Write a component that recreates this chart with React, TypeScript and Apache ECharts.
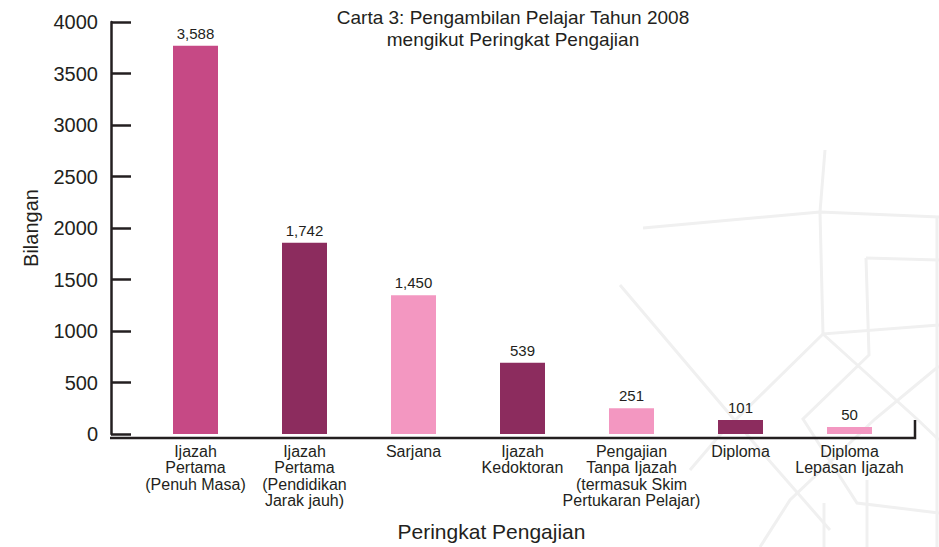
import React, { useEffect, useRef } from "react";
import * as echarts from "echarts";

// ---- Data ----
const categories = [
  "Ijazah\nPertama\n(Penuh Masa)",
  "Ijazah\nPertama\n(Pendidikan\nJarak jauh)",
  "Sarjana",
  "Ijazah\nKedoktoran",
  "Pengajian\nTanpa Ijazah\n(termasuk Skim\nPertukaran Pelajar)",
  "Diploma",
  "Diploma\nLepasan Ijazah",
];
// Bar heights as drawn in the picture (axis units)
const barHeights = [3770, 1856, 1346, 692, 250, 135, 67];
// Value labels printed above the bars
const labelValues = [3588, 1742, 1450, 539, 251, 101, 50];
const barColors = ["#c64985", "#8c2c5e", "#f397c1", "#8c2c5e", "#f397c1", "#8c2c5e", "#f397c1"];
const yTicks = { min: 0, max: 4000, interval: 500 };

const titleText = "Carta 3: Pengambilan Pelajar Tahun 2008\nmengikut Peringkat Pengajian";
const xName = "Peringkat Pengajian";
const yName = "Bilangan";

const FONT = "'Liberation Sans', Arial, Helvetica, sans-serif";
const INK = "#231f20";
const DECOR = "#f0f0f0";

export default function App() {
  const ref = useRef<HTMLDivElement>(null);
  useEffect(() => {
    if (!ref.current) return;
    const chart = echarts.init(ref.current, undefined, { renderer: "svg" });
    const gridLeft = 141;
    const gridRight = 35;
    const gridTop = 22;
    const gridBottom = 109;
    const H = 547;
    const axisY = H - gridBottom;
    const decor = (pts: number[][]) => ({
      type: "polyline",
      z: 0,
      silent: true,
      shape: { points: pts },
      style: { stroke: DECOR, lineWidth: 3, fill: null },
    });
    chart.setOption({
      animation: false,
      backgroundColor: "#ffffff",
      textStyle: { fontFamily: FONT },
      title: {
        text: titleText,
        left: 508,
        top: 1,
        textAlign: "center",
        textStyle: { fontFamily: FONT, fontSize: 19, fontWeight: "normal", color: INK, lineHeight: 22 },
      },
      grid: { left: gridLeft, right: gridRight, top: gridTop, bottom: gridBottom, containLabel: false },
      xAxis: {
        type: "category",
        data: categories,
        boundaryGap: true,
        axisLine: { show: false },
        axisTick: { show: false },
        axisLabel: {
          interval: 0,
          margin: 9,
          fontSize: 16,
          lineHeight: 16.5,
          color: INK,
          fontFamily: FONT,
          align: "center",
        },
        name: xName,
        nameLocation: "middle",
        nameGap: 87,
        nameMoveOverlap: false,
        nameTextStyle: { fontSize: 21, color: INK, fontFamily: FONT, padding: [0, 62, 0, 0] },
      },
      yAxis: {
        type: "value",
        min: yTicks.min,
        max: yTicks.max,
        interval: yTicks.interval,
        offset: 30,
        axisLine: { show: true, lineStyle: { color: INK, width: 2.5 } },
        axisTick: { show: true, inside: true, length: 20, lineStyle: { color: INK, width: 2.5 } },
        axisLabel: { fontSize: 20, color: INK, margin: 13, fontFamily: FONT, formatter: (v: number) => String(v) },
        splitLine: { show: false },
        name: yName,
        nameLocation: "middle",
        nameGap: 70,
        nameRotate: 90,
        nameMoveOverlap: false,
        nameTextStyle: { fontSize: 20, color: INK, fontFamily: FONT },
      },
      graphic: [
        decor([[643, 228], [820, 212], [939, 217]]),
        decor([[825, 150], [820, 212], [823, 334], [939, 325]]),
        decor([[866, 258], [939, 260]]),
        decor([[866, 258], [869, 355], [803, 419], [857, 503], [939, 513]]),
        decor([[823, 334], [719, 436], [690, 470]]),
        decor([[823, 334], [917, 419], [939, 440]]),
        decor([[620, 285], [760, 450], [830, 530]]),
        decor([[939, 366], [875, 419], [790, 500], [760, 547]]),
        decor([[824, 503], [824, 547]]),
        decor([[867, 480], [867, 547]]),
        decor([[937, 217], [937, 547]]),
        {
          type: "polyline",
          z: 10,
          shape: { points: [[gridLeft - 31, axisY], [915, axisY], [915, axisY - 18]] },
          style: { stroke: INK, lineWidth: 2.5, fill: null },
        },
      ],
      series: [
        {
          type: "bar",
          z: 2,
          barWidth: 45,
          data: barHeights.map((v, i) => ({ value: v, itemStyle: { color: barColors[i] } })),
          label: {
            show: true,
            position: "top",
            distance: 5,
            fontSize: 15,
            color: INK,
            fontFamily: FONT,
            formatter: (p: any) => labelValues[p.dataIndex].toLocaleString("en-US"),
          },
        },
      ],
    });
    return () => chart.dispose();
  }, []);
  return (
    <div
      ref={ref}
      style={{ position: "absolute", left: 0, top: 0, width: 939, height: 547, background: "#fff" }}
    />
  );
}
